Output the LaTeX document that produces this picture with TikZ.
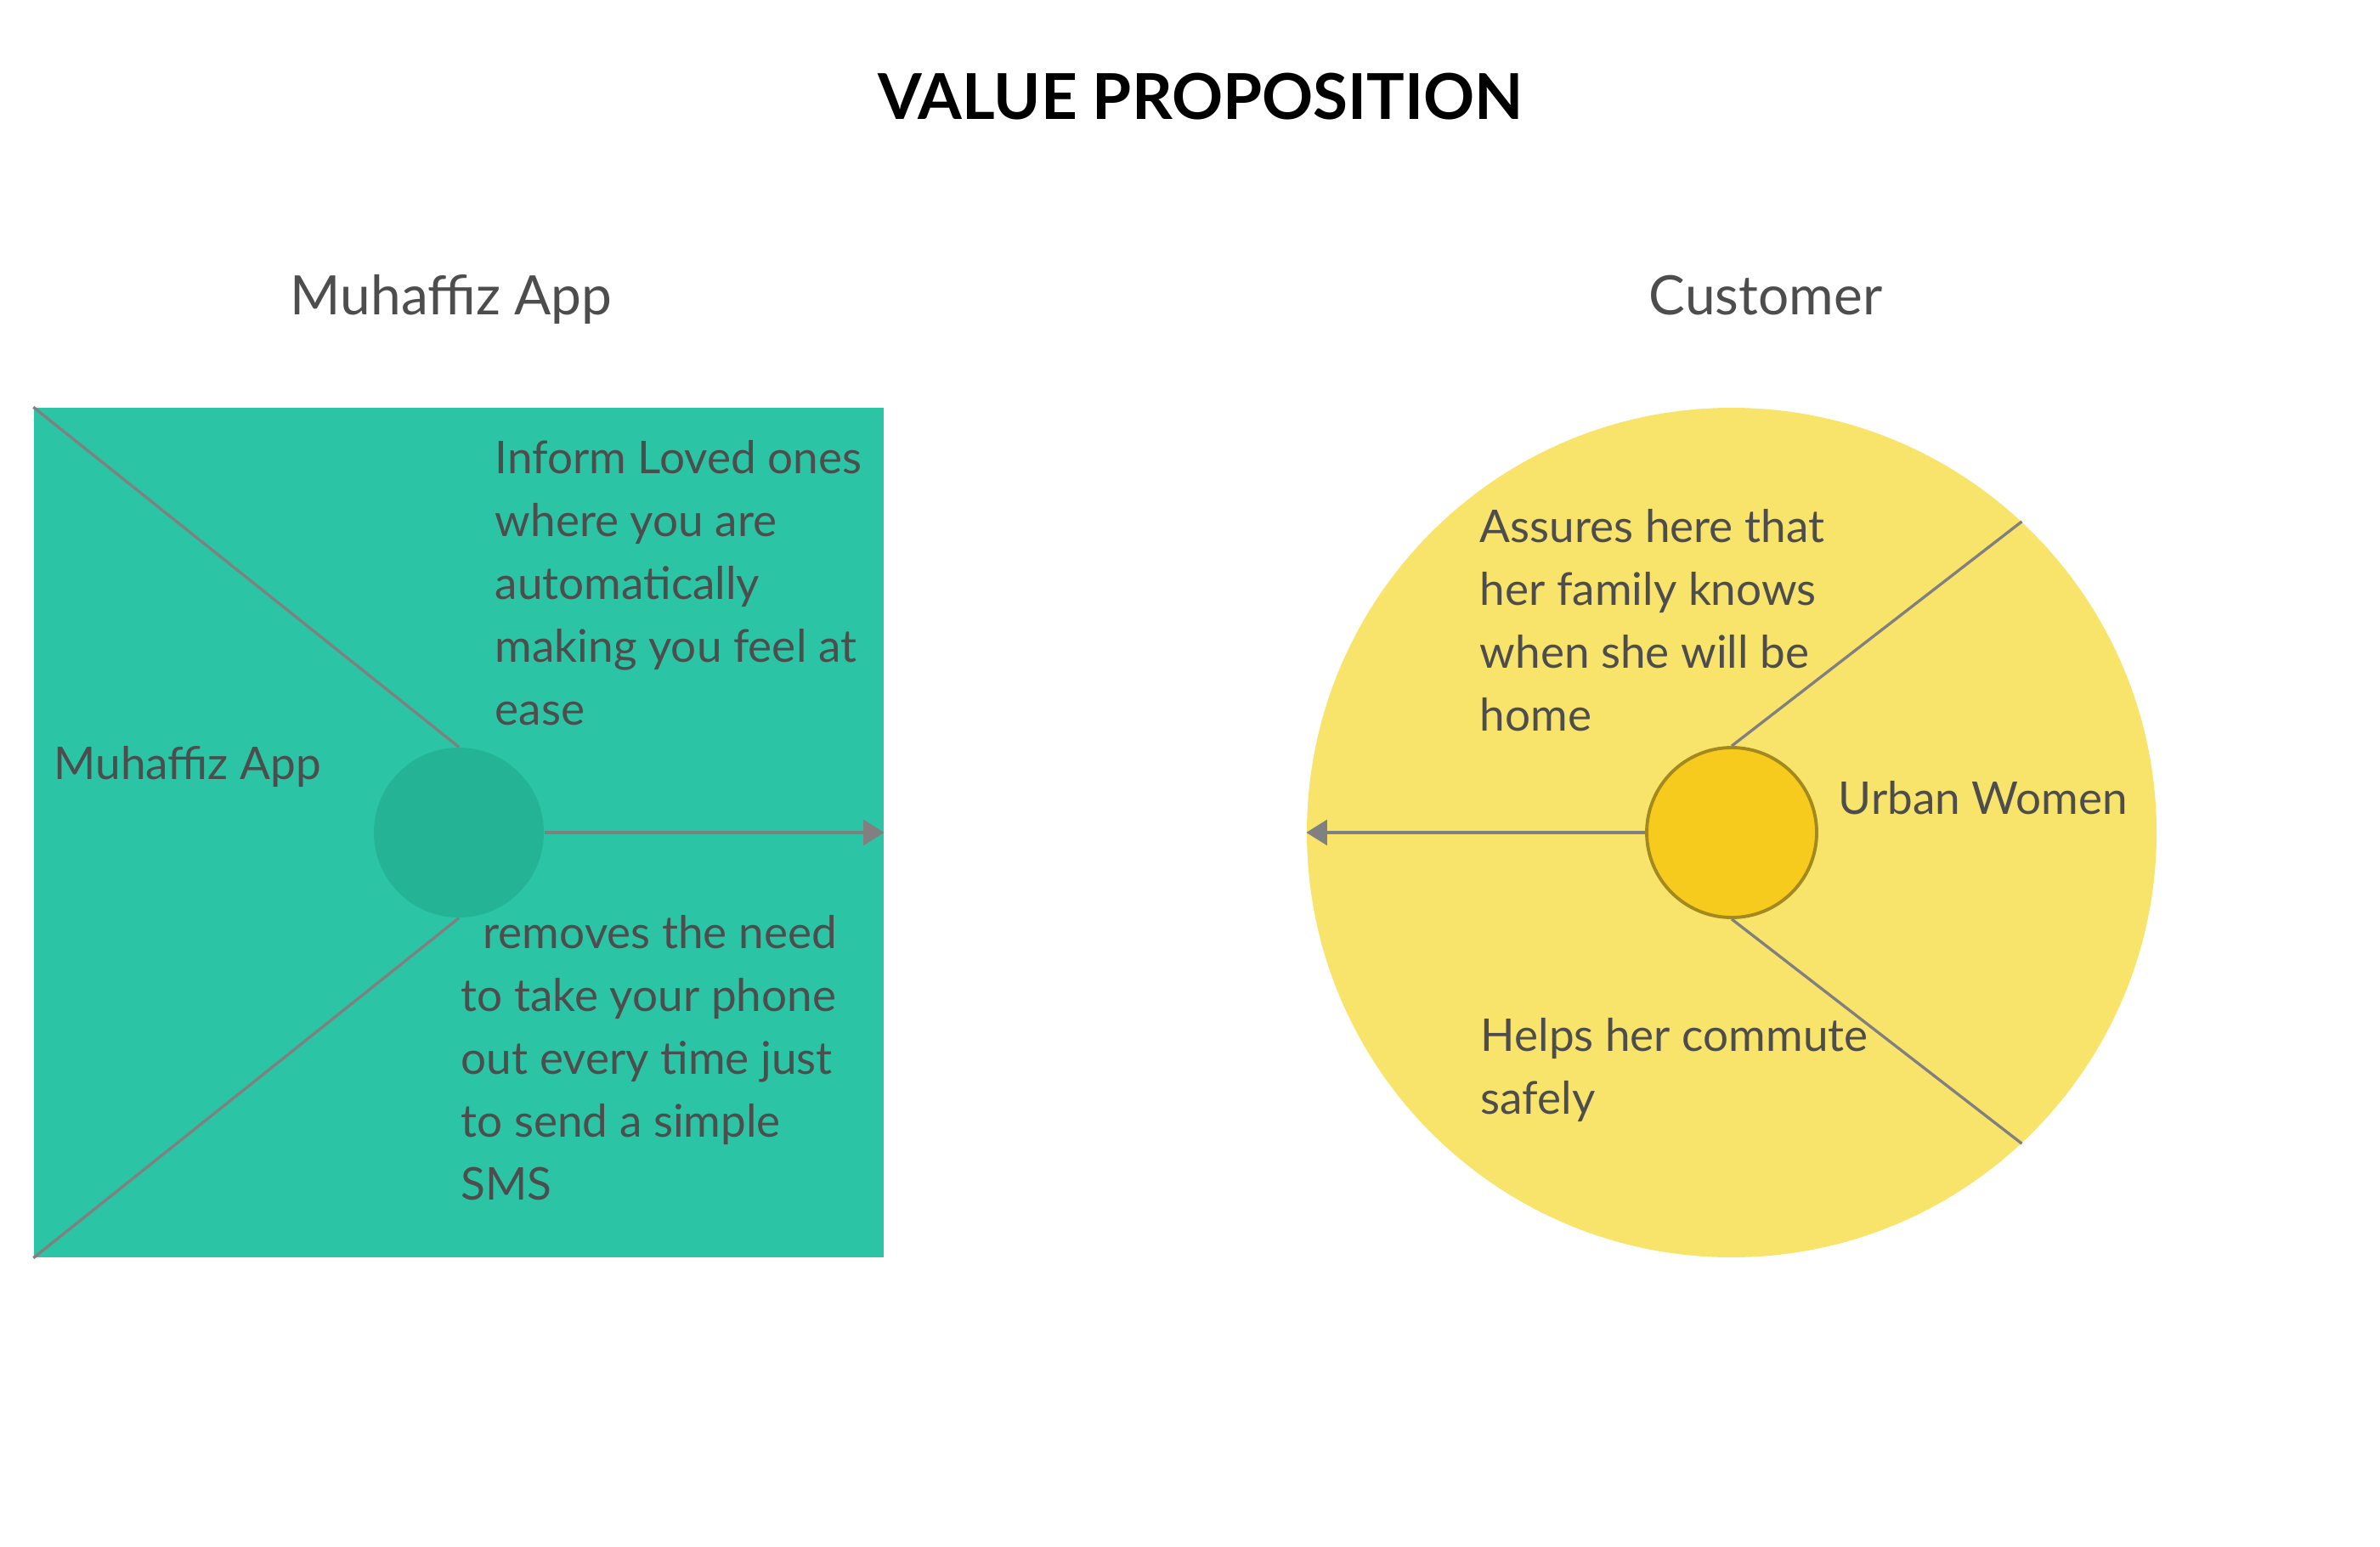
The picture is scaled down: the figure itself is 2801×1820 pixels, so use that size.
\documentclass[tikz,border=0pt]{standalone}
\usepackage{fontspec}
\setmainfont{Lato}
\usepackage{tikz}
\usetikzlibrary{arrows.meta,positioning,shapes,calc}
\usepackage{xcolor}
\definecolor{appgreen}{HTML}{2BC5A5}
\definecolor{hubgreen}{HTML}{24B394}
\definecolor{custyellow}{HTML}{F9E46B}
\definecolor{coreyellow}{HTML}{F6CB1E}
\definecolor{coreedge}{HTML}{A3891E}
\definecolor{linkgray}{HTML}{808080}
\definecolor{textgray}{HTML}{4D4D4D}

\begin{document}
\begin{tikzpicture}[x=0.1mm,y=-0.1mm,
  body/.style={anchor=base west,inner sep=0,align=left,text=textgray,font=\fontsize{15.1}{21}\selectfont},
  head/.style={anchor=base,inner sep=0,text=textgray,font=\fontsize{18.2}{22}\selectfont},
  link/.style={draw=linkgray,line width=0.95pt},
  tip/.style={-{Triangle[length=7pt,width=8.5pt]},linkgray}]
  \useasboundingbox (0,0) rectangle (2801,1820);
  \node[anchor=base,inner sep=0,font=\fontsize{21.2}{26}\selectfont\bfseries] (title) at (1413,141) {VALUE PROPOSITION};
  \node[head] (apphead) at (531,370) {Muhaffiz App};
  \node[head] (custhead) at (2078,370) {Customer};
  % left side
  \node[rectangle,fill=appgreen,minimum size=100mm,inner sep=0] (app) at (540,980) {};
  \node[circle,fill=hubgreen,minimum size=20mm,inner sep=0] (hub) at (540,980) {};
  \draw[link] (app.north west) -- (hub.north);
  \draw[link] (hub.south) -- (app.south west);
  \draw[link,tip] (hub.east) -- (app.east);
  \node[body] (appname) at (63,917) {Muhaffiz App};
  % base of a multi-line node = its last line
  \node[body] (inform) at (582,853) {Inform Loved ones\\where you are\\automatically\\making you feel at\\ease};
  \node[body] (removes) at (542,1412) {\hspace*{7.4pt}removes the need\\to take your phone\\out every time just\\to send a simple\\SMS};
  % right side
  \node[circle,fill=custyellow,minimum size=100mm,inner sep=0] (cust) at (2038,980) {};
  \node[circle,fill=coreyellow,draw=coreedge,line width=1.1pt,minimum size=20mm,inner sep=0] (urban) at (2038,980) {};
  \draw[link] (urban.north) -- (cust.47.8);
  \draw[link] (urban.south) -- (cust.-47.8);
  \draw[link,tip] (urban.west) -- (cust.west);
  \node[body] (assures) at (1741,860) {Assures here that\\her family knows\\when she will be\\home};
  \node[body] (women) at (2163,958) {Urban Women};
  \node[body] (helps) at (1742,1311) {Helps her commute\\safely};
\end{tikzpicture}
\end{document}
